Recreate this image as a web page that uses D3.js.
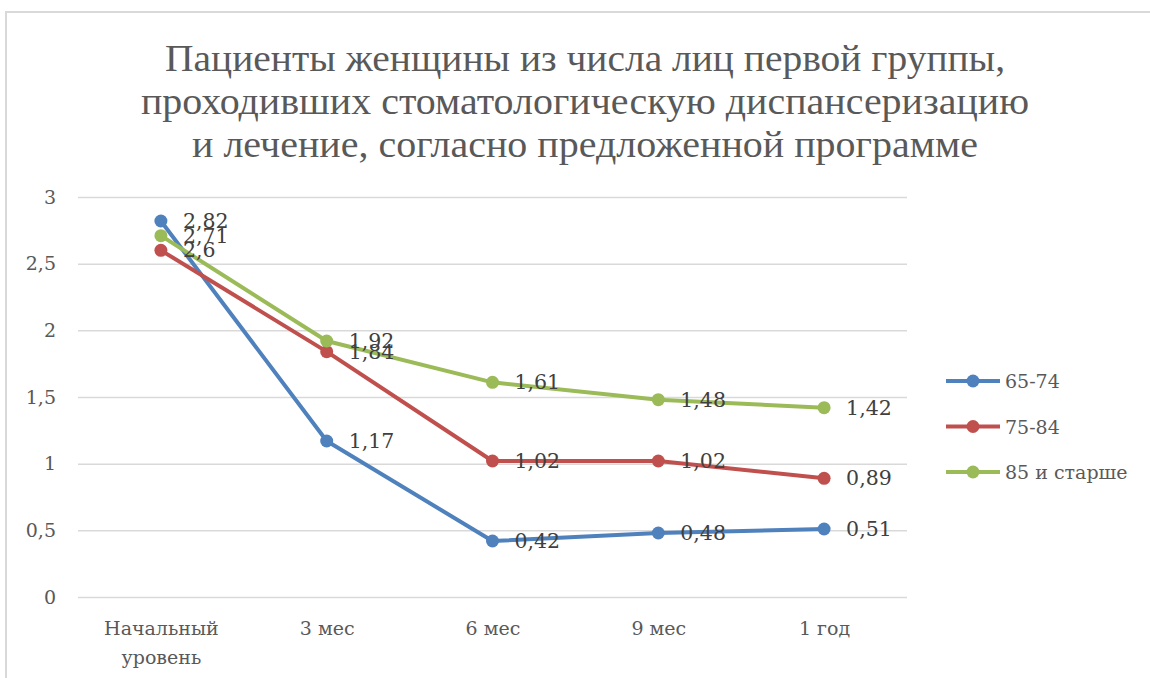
<!DOCTYPE html>
<html>
<head>
<meta charset="utf-8">
<script src="https://cdn.jsdelivr.net/npm/d3@7"></script>
<style>
  body { margin: 0; background: #fff; }
  svg { font-family: "DejaVu Serif", "Liberation Serif", serif; }
</style>
</head>
<body>
<div id="chart"></div>
<script>
// Размеры
const width = 1150;
const height = 678;

// Данные
const categories = ["Начальный уровень", "3 мес", "6 мес", "9 мес", "1 год"];
const seriesNames = ["65-74", "75-84", "85 и старше"];
const values6574 = [2.82, 1.17, 0.42, 0.48, 0.51];
const values7584 = [2.6, 1.84, 1.02, 1.02, 0.89];
const values85 = [2.71, 1.92, 1.61, 1.48, 1.42];
const colors = ["#4f81bd", "#c0504d", "#9bbb59"];
const yTicks = [0, 0.5, 1, 1.5, 2, 2.5, 3];
const titleLines = [
  "Пациенты женщины из числа лиц первой группы,",
  "проходивших стоматологическую диспансеризацию",
  "и лечение, согласно предложенной программе"
];

const series = [values6574, values7584, values85].map((v, i) => ({
  name: seriesNames[i], color: colors[i], values: v
}));

const plot = { left: 78, right: 907, top: 197, bottom: 597 };

const svg = d3.select("#chart").append("svg")
  .attr("width", width)
  .attr("height", height);

// Рамка
svg.append("rect")
  .attr("x", 6).attr("y", 12)
  .attr("width", width).attr("height", height)
  .attr("fill", "none")
  .attr("stroke", "#d9d9d9")
  .attr("stroke-width", 2);

// Заголовок
const titleWidths = [840, 888, 786];
svg.append("g").selectAll("text")
  .data(titleLines)
  .join("text")
  .attr("x", 585)
  .attr("y", (d, i) => 71 + i * 43)
  .attr("text-anchor", "middle")
  .style("font-family", "'Liberation Serif', serif")
  .attr("font-size", 37)
  .attr("fill", "#595959")
  .attr("textLength", (d, i) => titleWidths[i])
  .attr("lengthAdjust", "spacingAndGlyphs")
  .text(d => d);

// Шкалы
const x = d3.scalePoint()
  .domain(categories)
  .range([plot.left, plot.right])
  .padding(0.5);

const y = d3.scaleLinear()
  .domain([0, 3])
  .range([plot.bottom, plot.top]);

const fmt = v => String(v).replace(".", ",");

// Сетка
svg.append("g")
  .attr("transform", `translate(${plot.left},0)`)
  .call(d3.axisLeft(y).tickValues(yTicks).tickSize(-(plot.right - plot.left)).tickFormat(fmt))
  .call(g => g.select(".domain").remove())
  .call(g => g.selectAll(".tick line").attr("stroke", "#d9d9d9").attr("stroke-width", 1.5))
  .call(g => g.selectAll(".tick text")
    .attr("x", -22)
    .attr("font-size", 19)
    .style("font-family", "'DejaVu Serif', serif")
    .attr("fill", "#595959"));

// Ось X
const xAxis = svg.append("g")
  .attr("transform", `translate(0,${plot.bottom})`)
  .call(d3.axisBottom(x).tickSize(0).tickFormat(""));
xAxis.select(".domain").remove();
xAxis.selectAll(".tick").each(function(d) {
  const words = d.split(" ");
  const lines = words.length > 1 && d.length > 8 ? words : [d];
  const t = d3.select(this).append("text")
    .attr("fill", "#595959")
    .attr("font-size", 19)
    .style("font-family", "'DejaVu Serif', serif")
    .attr("text-anchor", "middle");
  lines.forEach((w, i) => {
    t.append("tspan").attr("x", 0).attr("y", 38 + i * 29).text(w);
  });
});

// Линии
const line = d3.line()
  .x((d, i) => x(categories[i]))
  .y(d => y(d));

const sg = svg.append("g").selectAll("g")
  .data(series)
  .join("g");

sg.append("path")
  .attr("d", d => line(d.values))
  .attr("fill", "none")
  .attr("stroke", d => d.color)
  .attr("stroke-width", 4)
  .attr("stroke-linejoin", "round");

sg.selectAll("circle")
  .data(d => d.values.map((v, i) => ({ v, i, color: d.color })))
  .join("circle")
  .attr("cx", d => x(categories[d.i]))
  .attr("cy", d => y(d.v))
  .attr("r", 6.5)
  .attr("fill", d => d.color);

// Подписи данных
svg.append("g").selectAll("g")
  .data(series)
  .join("g")
  .selectAll("text")
  .data(d => d.values.map((v, i) => ({ v, i })))
  .join("text")
  .attr("x", d => x(categories[d.i]) + 22)
  .attr("y", d => y(d.v) + 7)
  .attr("font-size", 20.5)
  .attr("fill", "#404040")
  .text(d => fmt(d.v));

// Легенда
const legend = svg.append("g").selectAll("g")
  .data(series)
  .join("g")
  .attr("transform", (d, i) => `translate(946,${381 + i * 45.5})`);

legend.append("line")
  .attr("x1", 0).attr("x2", 54)
  .attr("stroke", d => d.color)
  .attr("stroke-width", 4);

legend.append("circle")
  .attr("cx", 27).attr("r", 6.5)
  .attr("fill", d => d.color);

legend.append("text")
  .attr("x", 59)
  .attr("y", 7)
  .attr("font-size", 19)
  .attr("fill", "#595959")
  .text(d => d.name);
</script>
</body>
</html>
